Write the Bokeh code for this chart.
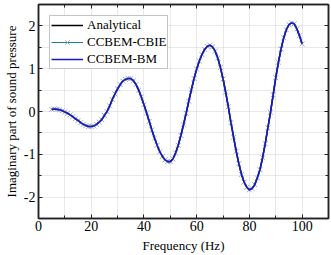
from bokeh.plotting import figure
from bokeh.models import (Range1d, FixedTicker, LinearAxis, Legend, LegendItem)
from bokeh.embed import file_html
from bokeh.resources import INLINE

# ---- data ----
freq = list(range(5, 101))
analytical = [
    0.05, 0.06, 0.05, 0.04, 0.02, -0.01, -0.04, -0.08, -0.12, -0.17,   # 5-14
    -0.21, -0.26, -0.30, -0.33, -0.35, -0.35, -0.34, -0.30, -0.25, -0.19,  # 15-24
    -0.09, 0.00, 0.13, 0.28, 0.41, 0.53, 0.63, 0.71, 0.75, 0.77,        # 25-34
    0.77, 0.72, 0.63, 0.50, 0.34, 0.16, -0.03, -0.23, -0.43, -0.62,     # 35-44
    -0.79, -0.94, -1.05, -1.13, -1.17, -1.17, -1.11, -0.97, -0.79, -0.56,  # 45-54
    -0.31, -0.04, 0.24, 0.51, 0.77, 0.99, 1.18, 1.33, 1.45, 1.52,       # 55-64
    1.55, 1.51, 1.41, 1.25, 1.03, 0.76, 0.45, 0.11, -0.26, -0.60,       # 65-74
    -0.93, -1.22, -1.47, -1.65, -1.77, -1.83, -1.80, -1.71, -1.55, -1.36,  # 75-84
    -1.08, -0.75, -0.38, -0.02, 0.39, 0.79, 1.15, 1.46, 1.72, 1.91,     # 85-94
    2.03, 2.07, 2.05, 1.93, 1.77, 1.58,                                # 95-100
]
ccbem_cbie = list(analytical)
ccbem_bm = list(analytical)

x_major = [0, 20, 40, 60, 80, 100]
x_minor = [10, 30, 50, 70, 90]
y_major = [-2, -1, 0, 1, 2]
y_minor = [-1.5, -0.5, 0.5, 1.5]
y_labels = {-2: "-2", -1: "-1", 0: "0", 1: "1", 2: "2"}

FONT = "Liberation Serif"

p = figure(width=331, height=255, output_backend="svg", toolbar_location=None,
           x_range=Range1d(0, 110), y_range=Range1d(-2.5, 2.5),
           min_border_left=10, min_border_right=3, min_border_top=4,
           min_border_bottom=5)
p.background_fill_color = "white"
p.border_fill_color = "white"
p.outline_line_color = "#222222"
p.outline_line_width = 1.5

xt = FixedTicker(ticks=x_major, minor_ticks=x_minor)
yt = FixedTicker(ticks=y_major, minor_ticks=y_minor)

bottom = p.below[0]
left = p.left[0]
bottom.ticker = xt
left.ticker = yt
left.major_label_overrides = y_labels

top = LinearAxis(ticker=xt, major_label_overrides={t: "" for t in x_major})
right = LinearAxis(ticker=yt, major_label_overrides={t: "" for t in y_major})
p.add_layout(top, "above")
p.add_layout(right, "right")

for ax in [bottom, left, top, right]:
    ax.major_tick_in = 4
    ax.major_tick_out = 0
    ax.minor_tick_in = 3
    ax.minor_tick_out = 0
    ax.axis_line_color = "#222222"
    ax.axis_line_width = 1.5
    ax.major_tick_line_color = "#222222"
    ax.minor_tick_line_color = "#222222"
    ax.major_label_text_font = FONT
    ax.major_label_text_font_size = "14px"
    ax.major_label_text_color = "black"
    ax.axis_label_text_font = FONT
    ax.axis_label_text_font_size = "13px"
    ax.axis_label_text_font_style = "normal"
    ax.axis_label_text_color = "black"

for ax in [top, right]:
    ax.major_label_standoff = 0
    ax.major_label_text_font_size = "1px"

bottom.axis_label = "Frequency (Hz)"
bottom.major_label_standoff = 2
bottom.axis_label_standoff = 4
left.axis_label = "Imaginary part of sound pressure"
left.major_label_standoff = 3
left.axis_label_standoff = 2

for g in [p.xgrid[0], p.ygrid[0]]:
    g.grid_line_color = "#d2d2d2"
    g.grid_line_dash = "1 1"
    g.grid_line_width = 1
    g.minor_grid_line_color = "#d2d2d2"
    g.minor_grid_line_dash = "1 1"
    g.minor_grid_line_width = 1
p.xgrid[0].ticker = xt
p.ygrid[0].ticker = yt

r_an = p.line(freq, analytical, line_color="black", line_width=1.5)
r_cb_l = p.line(freq, ccbem_cbie, line_color="#1f7f7a", line_width=1.2)
r_cb_m = p.scatter(freq, ccbem_cbie, marker="x", size=7, line_color="#9eabc2",
                   line_width=1)
r_bm_l = p.line(freq, ccbem_bm, line_color="#1818c0", line_width=1.6)

legend = Legend(items=[
    LegendItem(label="Analytical", renderers=[r_an]),
    LegendItem(label="CCBEM-CBIE", renderers=[r_cb_l, r_cb_m]),
    LegendItem(label="CCBEM-BM", renderers=[r_bm_l]),
], location="top_left")
legend.margin = 11
legend.padding = 1
legend.spacing = 1
legend.glyph_width = 32
legend.glyph_height = 16
legend.label_height = 16
legend.label_standoff = 4
legend.label_text_font = FONT
legend.label_text_font_size = "13px"
legend.label_text_color = "black"
legend.border_line_color = "#8a8a8a"
legend.border_line_width = 1
legend.background_fill_color = "white"
legend.background_fill_alpha = 1
p.add_layout(legend, "center")

open("out.html", "w").write(file_html(p, INLINE))
